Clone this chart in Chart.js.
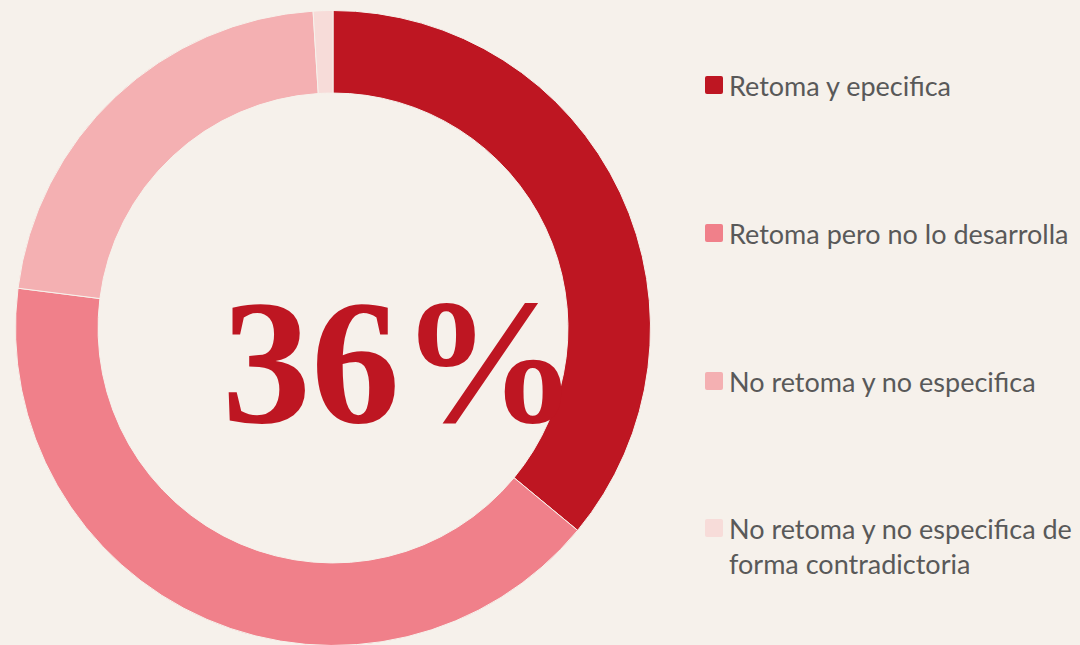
<!DOCTYPE html>
<html>
<head>
<meta charset="utf-8">
<script src="https://cdn.jsdelivr.net/npm/chart.js@4/dist/chart.umd.min.js"></script>
<style>
  html, body { margin: 0; padding: 0; background: #f6f1eb; overflow: hidden; }
  body { width: 1080px; height: 645px; position: relative; }
  #wrap { position: absolute; left: 15px; top: 10px; width: 636px; height: 636px; }
  #big { position: absolute; left: 222px; top: 274px; font: bold 89px/1 "Liberation Serif", serif; color: #be1622;
         white-space: nowrap; transform: scale(2); transform-origin: 0 0; }
  #legend { position: absolute; left: 705px; top: 0; font-family: Lato, sans-serif; font-size: 27px; color: #595959; }
  .item { position: absolute; left: 0; width: 380px; line-height: 35px; }
  .sw { position: absolute; left: 0; top: 8px; width: 18px; height: 18px; border-radius: 2px; }
  .txt { position: absolute; left: 24px; white-space: nowrap; }
</style>
</head>
<body>
<div id="wrap"><canvas id="c" width="636" height="636"></canvas></div>
<div id="big"></div>
<div id="legend"></div>
<script>
// categories and values (percent)
const labels = [
  'Retoma y epecifica',
  'Retoma pero no lo desarrolla',
  'No retoma y no especifica',
  ['No retoma y no especifica de', 'forma contradictoria']
];
const values = [36, 41, 22, 1];
const colors = ['#be1622', '#f0808a', '#f4b0b2', '#f7dcd9'];
const centerText = '36%';

document.getElementById('big').textContent = centerText;

// legend, built from the same arrays
const legendTops = [68, 216, 364, 511];
const legend = document.getElementById('legend');
labels.forEach((lab, i) => {
  const item = document.createElement('div');
  item.className = 'item';
  item.style.top = legendTops[i] + 'px';
  const sw = document.createElement('div');
  sw.className = 'sw';
  sw.style.background = colors[i];
  const txt = document.createElement('div');
  txt.className = 'txt';
  txt.innerHTML = [].concat(lab).join('<br>');
  item.appendChild(sw);
  item.appendChild(txt);
  legend.appendChild(item);
});

new Chart(document.getElementById('c'), {
  type: 'doughnut',
  data: {
    labels: labels.map(l => [].concat(l).join(' ')),
    datasets: [{
      data: values,
      backgroundColor: colors,
      borderColor: '#f6f1eb',
      borderWidth: 1
    }]
  },
  options: {
    responsive: false,
    animation: false,
    cutout: '74%',
    layout: { padding: 0 },
    plugins: {
      legend: { display: false },
      tooltip: { enabled: false }
    }
  }
});
</script>
</body>
</html>
